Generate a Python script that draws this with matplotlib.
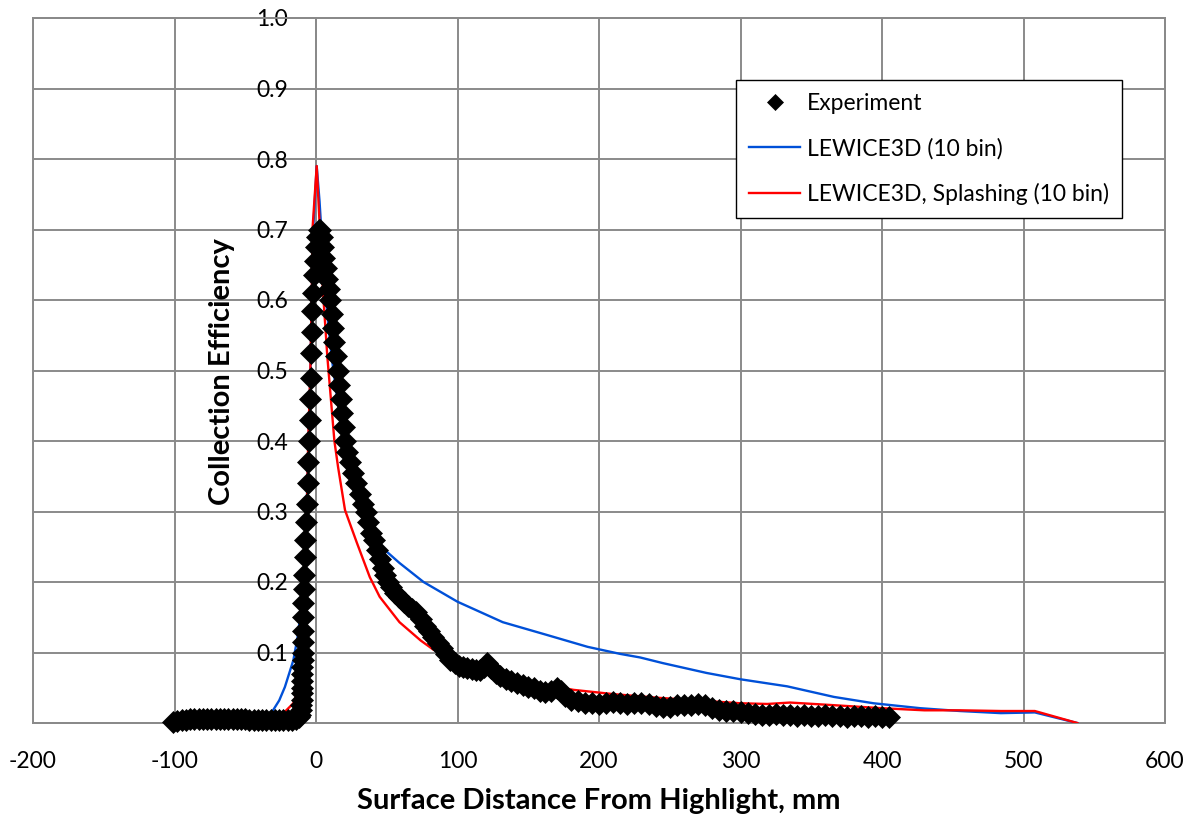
import matplotlib
matplotlib.use("Agg")
import matplotlib.pyplot as plt
from matplotlib.patches import Rectangle

plt.rcParams['font.family'] = ['Lato', 'DejaVu Sans']

# ---------------- data ----------------
exp_x = [-101, -98, -95, -92, -89, -86, -83, -80, -77, -74, -71, -68, -65, -62, -59,
         -56, -53, -50, -47, -44, -41, -38, -35, -32, -29, -26, -23, -20, -17, -14,
         -12, -11, -10.5, -10.5, -10, -10, -10, -10, -10, -10, -9.5, -9.5, -9.5, -9.5,
         -9, -9, -8.5, -8.5, -8, -7.5, -7, -6.5, -6, -5.5, -5, -4.5, -4, -3.5, -3.5,
         -3, -2.5, -2, -1.5, -1, 0, 1, 2, 3,
         4, 5, 6, 7, 8, 9, 10, 11, 12, 13, 14, 15.5, 16.5, 17.5, 18.5, 19.5, 20.5,
         22, 24, 26, 28, 31, 33, 35, 37, 39, 41, 43, 45, 47, 49, 51, 53, 56, 59, 62,
         65, 68, 71, 74, 77, 80, 83, 86, 89, 92, 95, 98, 101, 104, 107, 110, 113, 116,
         119, 121, 124, 127, 130, 134, 138, 142, 146, 150, 154, 158, 162, 166, 170,
         173, 176, 180, 185, 190, 195, 200, 205, 210, 215, 220, 225, 230, 235, 240,
         245, 250, 255, 260, 265, 270, 275, 280, 285, 290, 295, 300, 305, 310, 315,
         320, 325, 330, 335, 340, 345, 350, 355, 360, 365, 370, 375, 380, 385, 390,
         395, 400, 405]
exp_y = [0.001, 0.003, 0.004, 0.004, 0.005, 0.005, 0.005, 0.005, 0.005, 0.005, 0.005,
         0.005, 0.005, 0.006, 0.005, 0.005, 0.005, 0.005, 0.004, 0.004, 0.004, 0.004,
         0.004, 0.004, 0.004, 0.004, 0.004, 0.004, 0.004, 0.005,
         0.008, 0.012, 0.018, 0.025, 0.033, 0.042, 0.050, 0.060, 0.070, 0.080, 0.090,
         0.100, 0.115, 0.130, 0.150, 0.170, 0.190, 0.210, 0.235, 0.260, 0.285, 0.310,
         0.340, 0.370, 0.400, 0.430, 0.460, 0.490, 0.525, 0.555, 0.585, 0.610, 0.635,
         0.655, 0.675, 0.690, 0.700, 0.700,
         0.690, 0.675, 0.660, 0.645, 0.630, 0.615, 0.600, 0.580, 0.560, 0.540, 0.520,
         0.500, 0.480, 0.460, 0.440, 0.420, 0.400, 0.385, 0.370, 0.355, 0.340, 0.325,
         0.310, 0.300, 0.285, 0.270, 0.260, 0.245, 0.232, 0.220, 0.210, 0.200, 0.193,
         0.185, 0.179, 0.172, 0.166, 0.162, 0.158, 0.148, 0.138, 0.130, 0.122, 0.114,
         0.106, 0.098, 0.090, 0.085, 0.081, 0.079, 0.078, 0.076, 0.075, 0.075, 0.080,
         0.085, 0.078, 0.071, 0.066, 0.062, 0.060, 0.057, 0.054, 0.051, 0.049, 0.046,
         0.044, 0.045, 0.049, 0.046, 0.038, 0.033, 0.031, 0.029, 0.028, 0.027, 0.028,
         0.030, 0.029, 0.027, 0.029, 0.028, 0.027, 0.024, 0.022, 0.022, 0.025, 0.026,
         0.025, 0.027, 0.026, 0.021, 0.018, 0.017, 0.017, 0.016, 0.014, 0.013, 0.012,
         0.012, 0.013, 0.012, 0.011, 0.010, 0.011, 0.010, 0.010, 0.011, 0.010, 0.010,
         0.009, 0.010, 0.010, 0.009, 0.010, 0.009, 0.008]

blue_x = [-100, -60, -40, -31, -26, -22, -19, -16, -13, -10, -8.5, -7, -5.5, -4, -3, -2,
          0.5, 2.5, 5, 8, 11, 15, 20, 25, 30, 35, 40, 45, 50, 59, 76, 100, 132, 163,
          192, 215, 229, 245, 276, 300, 333, 366, 394, 427, 455, 484, 508, 538]
blue_y = [0.004, 0.005, 0.008, 0.016, 0.032, 0.051, 0.070, 0.089, 0.122, 0.170, 0.210,
          0.280, 0.380, 0.490, 0.600, 0.700, 0.790, 0.740, 0.660, 0.580, 0.520, 0.460,
          0.390, 0.340, 0.310, 0.290, 0.270, 0.255, 0.243, 0.227, 0.200, 0.172, 0.143,
          0.125, 0.108, 0.098, 0.093, 0.085, 0.071, 0.062, 0.052, 0.037, 0.028, 0.021,
          0.017, 0.014, 0.015, 0.0]

red_x = [-100, -40, -28, -22, -16, -13, -11, -9.5, -8, -6.5, -5.5, -4, -3, -2.5, 0.5,
         2, 5, 8, 13, 15.6, 20.5, 29, 38, 45, 59, 74, 83, 100, 120, 140, 160, 182, 210,
         240, 270, 300, 319, 335, 360, 400, 430, 455, 484, 508, 538]
red_y = [0.003, 0.004, 0.008, 0.016, 0.028, 0.045, 0.065, 0.120, 0.200, 0.300, 0.400,
         0.500, 0.600, 0.700, 0.790, 0.730, 0.610, 0.520, 0.400, 0.363, 0.302, 0.255,
         0.207, 0.179, 0.143, 0.117, 0.104, 0.092, 0.080, 0.066, 0.055, 0.047, 0.041,
         0.036, 0.032, 0.028, 0.027, 0.029, 0.026, 0.021, 0.018, 0.018, 0.017, 0.017,
         0.0]

x_ticks = [-200, -100, 0, 100, 200, 300, 400, 500, 600]
y_ticks = [0.0, 0.1, 0.2, 0.3, 0.4, 0.5, 0.6, 0.7, 0.8, 0.9, 1.0]
y_tick_labels = ['', '0.1', '0.2', '0.3', '0.4', '0.5', '0.6', '0.7', '0.8', '0.9', '1.0']

# ---------------- figure ----------------
W, H = 1190, 823
fig = plt.figure(figsize=(W / 100, H / 100), dpi=100)
ax = fig.add_axes([33 / W, 1 - 723 / H, (1165 - 33) / W, (723 - 18) / H])

grid_c = '#8a8a8a'
ax.set_xlim(-200, 600)
ax.set_ylim(0, 1.0)
ax.set_xticks(x_ticks)
ax.set_xticklabels([str(v) for v in x_ticks])
ax.set_yticks(y_ticks)
ax.set_yticklabels(y_tick_labels)
ax.grid(True, color=grid_c, linewidth=1.4, zorder=0)
ax.set_axisbelow(True)

for s in ['top', 'right', 'bottom']:
    ax.spines[s].set_color(grid_c)
    ax.spines[s].set_linewidth(1.4)
ax.spines['left'].set_position(('data', 0))
ax.spines['left'].set_color(grid_c)
ax.spines['left'].set_linewidth(1.4)
ax.add_patch(Rectangle((0, 0), 1, 1, transform=ax.transAxes, fill=False,
                       edgecolor=grid_c, linewidth=1.4, clip_on=False, zorder=0))

ax.tick_params(axis='both', length=0, labelsize=16.5, colors='black')
ax.tick_params(axis='x', pad=20)
ax.tick_params(axis='y', pad=20)

ax.plot(blue_x, blue_y, color='#0050d8', linewidth=1.7, zorder=3,
        label='LEWICE3D (10 bin)')
ax.plot(red_x, red_y, color='#ff0000', linewidth=1.7, zorder=4,
        label='LEWICE3D, Splashing (10 bin)')
ax.plot(exp_x, exp_y, linestyle='none', marker='D', markersize=11,
        markerfacecolor='black', markeredgecolor='black', markeredgewidth=0.5,
        clip_on=False, zorder=5, label='Experiment')

handles, labels = ax.get_legend_handles_labels()
order = [2, 0, 1]
leg = ax.legend([handles[i] for i in order], [labels[i] for i in order],
                loc='upper left', bbox_to_anchor=(736 / W, 1 - 80 / H),
                bbox_transform=fig.transFigure, fontsize=16.5, frameon=True,
                fancybox=False, framealpha=1, edgecolor='black',
                handlelength=2.2, handletextpad=0.3, labelspacing=1.02,
                borderpad=0.58, borderaxespad=0, markerscale=0.72)
leg.get_frame().set_linewidth(1.0)
leg.set_zorder(10)

fig.text(599 / W, 1 - 801 / H, 'Surface Distance From Highlight, mm',
         ha='center', va='center', fontsize=21, fontweight='bold')
fig.text(222 / W, 1 - 372 / H, 'Collection Efficiency', rotation=90,
         ha='center', va='center', fontsize=21, fontweight='bold')

fig.savefig('out.png', dpi=100)
